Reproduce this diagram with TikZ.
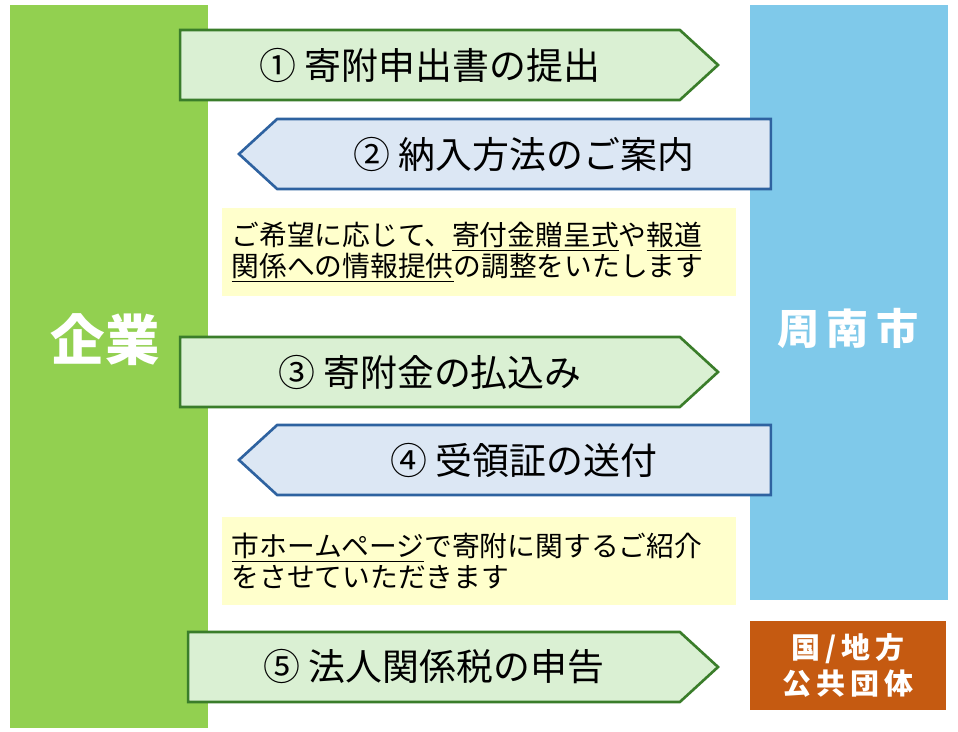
\documentclass[tikz,border=0pt]{standalone}
\usepackage{fontspec}
\setmainfont{Noto Sans CJK JP}
\usetikzlibrary{shapes.arrows}
\definecolor{kigyo}{HTML}{92D050}
\definecolor{shi}{HTML}{7FC9EA}
\definecolor{kuni}{HTML}{C55A11}
\definecolor{gfill}{HTML}{DAF0D3}
\definecolor{gline}{HTML}{3A7D2A}
\definecolor{bfill}{HTML}{DCE7F4}
\definecolor{bline}{HTML}{2E62A0}
\definecolor{note}{HTML}{FFFFCC}

\begin{document}
\begin{tikzpicture}[x=0.02cm,y=-0.02cm]
\tikzstyle{toarrow}=[single arrow, single arrow head extend=0pt, single arrow tip angle=85,
    minimum height=10.76cm, minimum width=1.4cm, inner sep=0pt, line width=1.5pt,
    draw=gline, fill=gfill, font=\fontsize{21}{23}\selectfont]
\tikzstyle{backarrow}=[toarrow, shape border rotate=180, draw=bline, fill=bfill]
\tikzstyle{notebox}=[rectangle, fill=note, minimum width=10.28cm, minimum height=1.76cm,
    text width=9.9cm, align=left, font=\fontsize{15.8}{17.6}\selectfont]
\useasboundingbox (0,0) rectangle (958,732);

\node[rectangle, fill=kigyo, minimum width=3.96cm, minimum height=14.46cm] (kigyo) at (109,366.5) {};
\node[text=white, font=\fontsize{31}{31}\selectfont\bfseries] (kigyolabel) at (105,340) {企業};

\node[rectangle, fill=shi, minimum width=3.96cm, minimum height=11.9cm] (shi) at (849,302.5) {};
\node[text=white, font=\fontsize{24}{24}\selectfont\bfseries] (shilabel) at (848,328) {周\,南\,市};

\node[rectangle, fill=kuni, minimum width=3.92cm, minimum height=1.78cm, text=white,
    align=center, font=\fontsize{16.5}{21}\selectfont\bfseries] (kuni) at (848,665.5) {国\,/\,地\,方\\公\,共\,団\,体};

\node[toarrow] (a1) at (430,65) {① 寄附申出書の提出};
\node[backarrow, minimum height=10.64cm] (a2) at (524,154) {② 納入方法のご案内};
\node[notebox] (n1) at (479,252) {ご希望に応じて、\underline{寄付金贈呈式}や\underline{報道}\\\underline{関係への情報提供}の調整をいたします};
\node[toarrow] (a3) at (430,372) {③ 寄附金の払込み};
\node[backarrow, minimum height=10.64cm] (a4) at (524,460) {④ 受領証の送付};
\node[notebox] (n2) at (479,561) {\underline{市ホームページ}で寄附に関するご紹介\\をさせていただきます};
\node[toarrow, minimum height=10.6cm] (a5) at (434,667) {⑤ 法人関係税の申告};
\end{tikzpicture}
\end{document}
